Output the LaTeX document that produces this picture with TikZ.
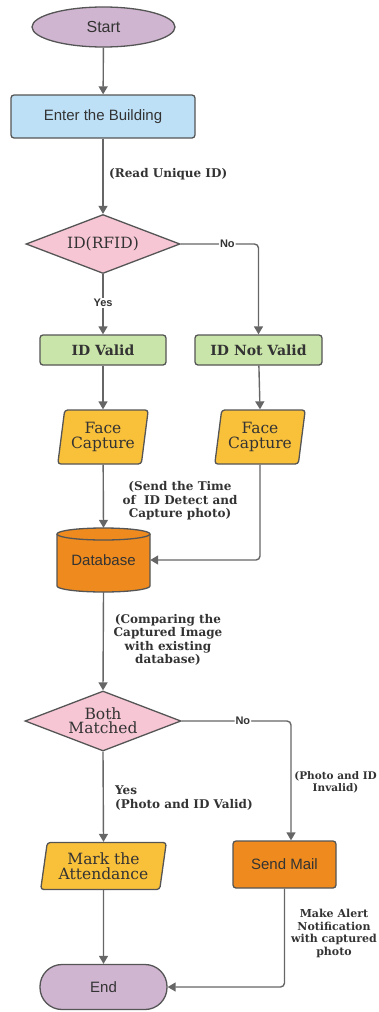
\documentclass[tikz,border=0pt]{standalone}
\usepackage{fontspec}
\setmainfont{DejaVu Serif}
\setsansfont{Liberation Sans}
\usetikzlibrary{arrows.meta,shapes.geometric}
\definecolor{lpurple}{HTML}{CFB5D0}
\definecolor{lblue}{HTML}{BDE0F6}
\definecolor{lpink}{HTML}{F6C6D5}
\definecolor{lgreen}{HTML}{C9E5A9}
\definecolor{lyellow}{HTML}{F9C03A}
\definecolor{lorange}{HTML}{EF8B1E}
\definecolor{edge}{HTML}{555555}
\definecolor{conn}{HTML}{666666}
\definecolor{txt}{HTML}{333333}
\tikzset{
  box/.style={draw=edge, line width=1.3pt, text=txt, inner sep=0pt},
  sans/.style={font=\sffamily\fontsize{15}{17}\selectfont},
  serif/.style={font=\fontsize{15.5}{17}\selectfont, align=center},
  bserif/.style={font=\bfseries\fontsize{14}{16}\selectfont},
  lbl/.style={font=\bfseries\fontsize{12}{13.5}\selectfont, text=txt, align=center, inner sep=1pt},
  yn/.style={font=\sffamily\bfseries\fontsize{11}{12}\selectfont, text=txt, fill=white, inner sep=1pt},
  conn/.style={draw=conn, line width=1.4pt},
  arr/.style={conn, -{Triangle[length=8pt,width=9pt]}},
  para/.style={box, trapezium, trapezium left angle=79, trapezium right angle=101, trapezium stretches=true, rounded corners=3pt, fill=lyellow, serif},
  dia/.style={box, diamond, aspect=2.6, fill=lpink, serif},
}
\begin{document}
\begin{tikzpicture}[x=1pt,y=-1pt]
\clip (0,0) rectangle (379,1012);
\useasboundingbox (0,0) rectangle (379,1012);

\node[box, ellipse, fill=lpurple, minimum width=143pt, minimum height=40pt, font=\sffamily\fontsize{16}{18}\selectfont] (start) at (103.5,27) {Start};
\node[box, rectangle, rounded corners=3pt, fill=lblue, minimum width=184pt, minimum height=43pt, sans] (enter) at (103,116.5) {Enter the Building};
\node[dia, minimum width=154pt, minimum height=59pt] (rfid) at (103,244) {ID(RFID)};
\node[box, rectangle, rounded corners=3pt, fill=lgreen, minimum width=126pt, minimum height=30pt, bserif] (valid) at (103,350) {ID Valid};
\node[box, rectangle, rounded corners=3pt, fill=lgreen, minimum width=127pt, minimum height=30pt, bserif] (notvalid) at (258.5,350) {ID Not Valid};
\node[para, minimum width=91pt, minimum height=54pt] (fc1) at (103,437) {Face\\[-2pt]Capture};
\node[para, minimum width=91pt, minimum height=54pt] (fc2) at (260,437) {Face\\[-2pt]Capture};

% database cylinder
\fill[lorange] (57,534) -- (57,586) arc[start angle=180, end angle=0, x radius=46.5, y radius=6] -- (150,534) arc[start angle=0, end angle=-180, x radius=46.5, y radius=6] -- cycle;
\draw[edge, line width=1.3pt] (57,534) -- (57,586) arc[start angle=180, end angle=0, x radius=46.5, y radius=6] -- (150,534);
\draw[edge, line width=1.3pt] (103.5,534) ellipse[x radius=46.5, y radius=6];
\node[sans, text=txt, minimum width=93pt, minimum height=64pt, inner sep=0pt] (db) at (103.5,560) {Database};

\node[dia, minimum width=156pt, minimum height=60pt] (both) at (103,721) {Both\\[-3pt]Matched};
\node[para, minimum width=127pt, minimum height=47pt] (mark) at (103.5,866) {Mark the\\[-2pt]Attendance};
\node[box, rectangle, rounded corners=3pt, fill=lorange, minimum width=103pt, minimum height=47pt, sans] (mail) at (284.5,864.5) {Send Mail};
\node[box, rectangle, rounded corners=22pt, fill=lpurple, minimum width=127pt, minimum height=45pt, sans] (end) at (103.5,987) {End};

% labels
\node[lbl, anchor=west] (l1) at (108,174) {(Read Unique ID)};
\node[lbl] (l2) at (180,501) {(Send the Time\\of\ \ ID Detect and\\Capture photo)};
\node[lbl] (l3) at (168,640) {(Comparing the\\Captured Image\\with existing\\database)};
\node[lbl, anchor=west] (l4) at (114,790) {Yes};
\node[lbl, anchor=west] (l5) at (114,805) {(Photo and ID Valid)};
\node[lbl, font=\bfseries\fontsize{10.5}{12}\selectfont, anchor=north east] (l6) at (378,770) {(Photo and ID\\Invalid)};
\node[lbl, font=\bfseries\fontsize{11}{12.5}\selectfont, anchor=north east] (l7) at (378,908) {Make Alert\\Notification\\with captured\\photo};

% connectors
\draw[arr] (start) -- (enter);
\draw[arr] (enter) -- (rfid);
\draw[arr, rounded corners=4pt] (rfid.east) -| node[yn, pos=0.3] (no1) {No} (notvalid.north);
\draw[arr] (rfid.south) -- node[yn, pos=0.48] (yes1) {Yes} (valid.north);
\draw[arr] (valid) -- (fc1);
\draw[arr] (notvalid) -- (fc2.north);
\draw[arr] (fc1) -- (db.north);
\draw[arr, rounded corners=4pt] (fc2.south) |- (db.east);
\draw[arr] (db.south) -- (both.north);
\draw[arr, rounded corners=4pt] (both.east) -| node[yn, pos=0.28] (no2) {No} ([xshift=6.5pt]mail.north);
\draw[arr] (both.south) -- (mark.north);
\draw[arr] (mark.south) -- (end.north);
\draw[arr, rounded corners=4pt] (mail.south) |- (end.east);
\end{tikzpicture}
\end{document}
